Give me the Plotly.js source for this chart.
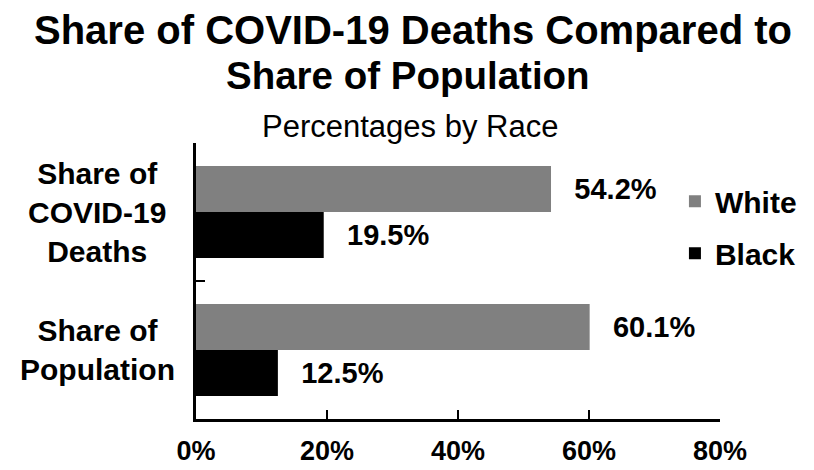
<!DOCTYPE html>
<html><head><meta charset="utf-8">
<script src="https://cdn.plot.ly/plotly-3.0.1.min.js"></script>
<style>html,body{margin:0;padding:0;background:#fff}#chart{width:814px;height:470px}</style>
</head><body><div id="chart"></div>
<script>
const categories = ["Share of<br>COVID-19<br>Deaths", "Share of<br>Population"];
const whiteValues = [54.2, 60.1];
const blackValues = [19.5, 12.5];
const seriesNames = ["White", "Black"];
const xTicks = [0, 20, 40, 60, 80];
const xTickLabels = ["0%", "20%", "40%", "60%", "80%"];
const titleLines = ["Share of COVID-19 Deaths Compared to", "Share of Population"];
const subtitle = "Percentages by Race";

const font = "Liberation Sans, Arial, sans-serif";
const labelFont = {family: font, size: 29, color: "#000", weight: "bold"};

function trace(name, vals, color) {
  return {
    type: "bar", orientation: "h", name: name, legendgroup: name,
    y: categories, x: vals,
    marker: {color: color},
    text: vals.map(v => "\u2002\u2009" + v.toFixed(1) + "%"),
    textposition: "outside", cliponaxis: false, constraintext: "none",
    textfont: labelFont, hoverinfo: "skip"
  };
}
const data = [trace(seriesNames[0], whiteValues, "#808080"), trace(seriesNames[1], blackValues, "#000000")];

const annotations = categories.map(c => ({
  text: "<b>" + c + "</b>", xref: "paper", yref: "y", x: -0.188, y: c,
  xanchor: "center", yanchor: "middle", align: "center", showarrow: false,
  font: {family: font, size: 30, color: "#000"}
}));
const titleY = [1.409, 1.246];
const titleX = [0.414, 0.404];
const titleSize = [40, 38.5];
titleLines.forEach((t, i) => annotations.push({
  text: "<b>" + t + "</b>", xref: "paper", yref: "paper", x: titleX[i], y: titleY[i],
  xanchor: "center", yanchor: "middle", showarrow: false,
  font: {family: font, size: titleSize[i], color: "#000"}
}));
annotations.push({
  text: subtitle, xref: "paper", yref: "paper", x: 0.408, y: 1.058,
  xanchor: "center", yanchor: "middle", showarrow: false,
  font: {family: font, size: 31, color: "#000"}
});

const layout = {
  width: 814, height: 470,
  margin: {l: 196, r: 94, t: 143, b: 51, autoexpand: false},
  paper_bgcolor: "#fff", plot_bgcolor: "#fff",
  barmode: "group", bargap: 0.333, bargroupgap: 0,
  xaxis: {range: [0, 80], tickvals: xTicks, ticktext: xTickLabels,
    showgrid: false, zeroline: false, showline: true, linecolor: "#000", linewidth: 3,
    ticks: "inside", ticklen: 9, tickwidth: 2.5, tickcolor: "#000", ticklabelstandoff: 6,
    tickfont: {family: font, size: 27, color: "#000", weight: "bold"}, mirror: false},
  yaxis: {autorange: "reversed", type: "category", showticklabels: false,
    showgrid: false, zeroline: false, showline: true, linecolor: "#000", linewidth: 3,
    ticks: "inside", ticklen: 9, tickwidth: 2.5, tickcolor: "#000", tickson: "boundaries"},
  showlegend: true,
  legend: {x: 0.914, xanchor: "left", y: 0.883, yanchor: "top", traceorder: "grouped",
    font: {family: font, size: 30, color: "#000", weight: "bold"}, tracegroupgap: 10,
    itemwidth: 30, bgcolor: "rgba(0,0,0,0)"},
  annotations: annotations
};
Plotly.newPlot("chart", data, layout, {displayModeBar: false, staticPlot: true});
</script></body></html>
